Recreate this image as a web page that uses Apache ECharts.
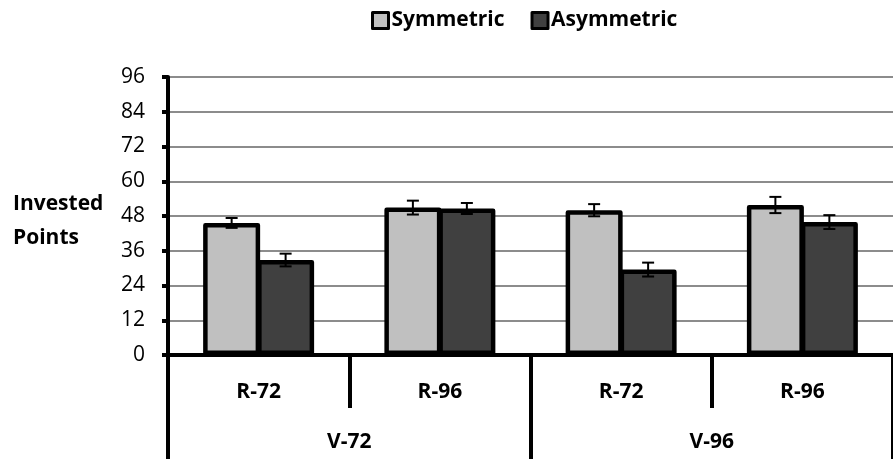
<!DOCTYPE html>
<html><head><meta charset="utf-8">
<script src="https://cdn.jsdelivr.net/npm/echarts@6/dist/echarts.min.js"></script>
<style>html,body{margin:0;padding:0;background:#fff}#c{width:893px;height:459px}</style>
</head><body><div id="c"></div>
<script>
var rLabels = ['R-72', 'R-96', 'R-72', 'R-96'];
var vLabels = ['V-72', 'V-96'];
var symmetric = [45.6, 50.9, 50.0, 51.8];
var asymmetric = [32.8, 50.6, 29.5, 45.9];
var symErr = [1.7, 2.4, 2.1, 2.8];
var asymErr = [2.2, 1.9, 2.4, 2.4];
var yTicks = [0, 12, 24, 36, 48, 60, 72, 84, 96];

var FONT = 'Open Sans';
var BW = 57;
var GAP = -0.053;
var OFF = BW * (1 + GAP) / 2;

function errData(vals, errs) {
  return vals.map(function (v, i) { return [i, v - errs[i], v + errs[i]]; });
}
function errSeries(name, vals, errs, off) {
  return {
    type: 'custom', name: name + ' err', z: 10, silent: true,
    xAxisIndex: 0,
    data: errData(vals, errs),
    renderItem: function (params, api) {
      var lo = api.coord([api.value(0), api.value(1)]);
      var hi = api.coord([api.value(0), api.value(2)]);
      var x = lo[0] + off;
      var st = { stroke: '#000', lineWidth: 2 };
      return { type: 'group', children: [
        { type: 'line', shape: { x1: x, y1: lo[1], x2: x, y2: hi[1] }, style: st },
        { type: 'line', shape: { x1: x - 6, y1: lo[1], x2: x + 6, y2: lo[1] }, style: st },
        { type: 'line', shape: { x1: x - 6, y1: hi[1], x2: x + 6, y2: hi[1] }, style: st }
      ]};
    }
  };
}

var chart = echarts.init(document.getElementById('c'));
chart.setOption({
  animation: false,
  textStyle: { fontFamily: FONT },
  legend: {
    top: 5, left: 366, itemWidth: 16, itemHeight: 16, itemGap: 26,
    icon: 'rect',
    textStyle: { fontFamily: FONT, fontWeight: 'bold', fontSize: 21, color: '#000', padding: [0, 0, 0, -2] },
    itemStyle: { borderWidth: 3, borderColor: '#000' },
    data: ['Symmetric', 'Asymmetric']
  },
  graphic: [{
    type: 'text', left: 13, top: 187,
    style: { text: 'Invested\nPoints', fontFamily: FONT, fontWeight: 'bold', fontSize: 21, lineHeight: 34, fill: '#000', align: 'center' }
  }],
  grid: { left: 168, top: 77, height: 278, width: 740 },
  xAxis: [{
    type: 'category', data: rLabels, position: 'bottom',
    axisLine: { show: true, lineStyle: { color: '#000', width: 4 } },
    axisTick: { show: true, interval: 0, length: 53, lineStyle: { color: '#000', width: 4 } },
    axisLabel: { margin: 27, fontFamily: FONT, fontWeight: 'bold', fontSize: 21, color: '#000' },
    splitLine: { show: false }
  }, {
    type: 'category', data: vLabels, position: 'bottom', offset: 0,
    axisLine: { show: false },
    axisTick: { show: true, interval: 0, length: 106, lineStyle: { color: '#000', width: 4 } },
    axisLabel: { margin: 77, fontFamily: FONT, fontWeight: 'bold', fontSize: 21, color: '#000' }
  }],
  yAxis: {
    type: 'value', min: 0, max: 96, interval: 12,
    axisLine: { show: true, lineStyle: { color: '#000', width: 4 } },
    axisTick: { show: true, length: 6, lineStyle: { color: '#000', width: 4 } },
    axisLabel: { margin: 23, fontFamily: FONT, fontSize: 21, color: '#000',
      formatter: function (v) { return yTicks.indexOf(v) >= 0 ? String(v) : ''; } },
    splitLine: { show: true, lineStyle: { color: '#8c8c8c', width: 2 } }
  },
  series: [{
    name: 'Symmetric', type: 'bar', data: symmetric, barWidth: BW, barGap: (GAP * 100) + '%',
    itemStyle: { color: '#c0c0c0', borderColor: '#000', borderWidth: 4.5, borderJoin: 'round' }
  }, {
    name: 'Asymmetric', type: 'bar', data: asymmetric, barWidth: BW, barGap: (GAP * 100) + '%',
    itemStyle: { color: '#404040', borderColor: '#000', borderWidth: 4.5, borderJoin: 'round' }
  },
  errSeries('Symmetric', symmetric, symErr, -OFF),
  errSeries('Asymmetric', asymmetric, asymErr, OFF)
  ]
});
</script></body></html>
